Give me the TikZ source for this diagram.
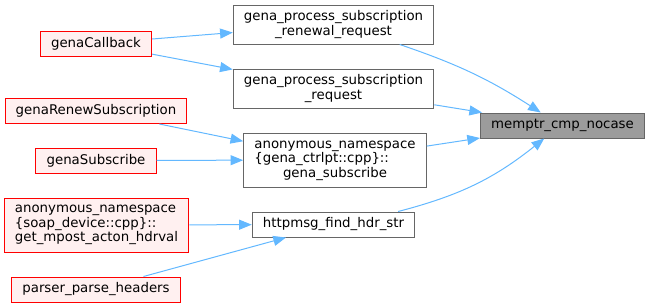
\documentclass[tikz,border=0pt]{standalone}
\usepackage{fontspec}
\setmainfont{DejaVu Sans}
\usepackage{xcolor}
\usetikzlibrary{arrows.meta}

\definecolor{edgeblue}{HTML}{63B8FF}
\definecolor{boxgrey}{HTML}{666666}
\definecolor{callerfill}{HTML}{FFF0F0}

\begin{document}
\begin{tikzpicture}[x=0.75pt, y=-0.75pt,
		every node/.style={draw=boxgrey, fill=white, line width=0.75pt, align=center,
			font=\fontsize{10}{11}\selectfont, inner xsep=8pt, inner ysep=2pt, minimum height=18.75pt},
		caller/.style={draw=red, fill=callerfill},
		callee/.style={fill=boxgrey!65},
		twolines/.style={minimum height=29.25pt},
		threelines/.style={minimum height=40.5pt},
		call/.style={draw=edgeblue, line width=0.75pt, -{Triangle[length=9.5pt, width=7.5pt]}}]
		\useasboundingbox (0,0) rectangle (649,307);

		\node[callee] (cmp) at (562.5,125.5) {memptr\_cmp\_nocase};

		\node[twolines] (renew) at (333.5,24.5) {gena\_process\_subscription\\\_renewal\_request};
		\node[twolines] (req) at (333.5,88.5) {gena\_process\_subscription\\\_request};
		\node[threelines] (gsub) at (335,160) {\begin{tabular}{@{}l@{}}anonymous\_namespace\\\{gena\_ctrlpt::cpp\}::\\\multicolumn{1}{@{}c@{}}{gena\_subscribe}\end{tabular}};
		\node (findhdr) at (333.5,224.5) {httpmsg\_find\_hdr\_str};

		\node[caller] (cb) at (96,43.5) {genaCallback};
		\node[caller] (renewsub) at (96,111) {genaRenewSubscription};
		\node[caller] (subscribe) at (96,160.5) {genaSubscribe};
		\node[caller, threelines, align=left] (mpost) at (96.5,225) {anonymous\_namespace\\\{soap\_device::cpp\}::\\get\_mpost\_acton\_hdrval};
		\node[caller] (parse) at (96,289.5) {parser\_parse\_headers};

		\draw[call] (renew) to[bend left=7] (cmp);
		\draw[call] (req) -- (cmp);
		\draw[call] (gsub) -- (cmp);
		\draw[call] (findhdr) to[bend right=12] (cmp);

		\draw[call] (cb) -- (renew);
		\draw[call] (cb) -- (req);
		\draw[call] (renewsub) -- (gsub);
		\draw[call] (subscribe) -- (gsub);
		\draw[call] (mpost) -- (findhdr);
		\draw[call] (parse) -- (findhdr);
	\end{tikzpicture}
\end{document}
